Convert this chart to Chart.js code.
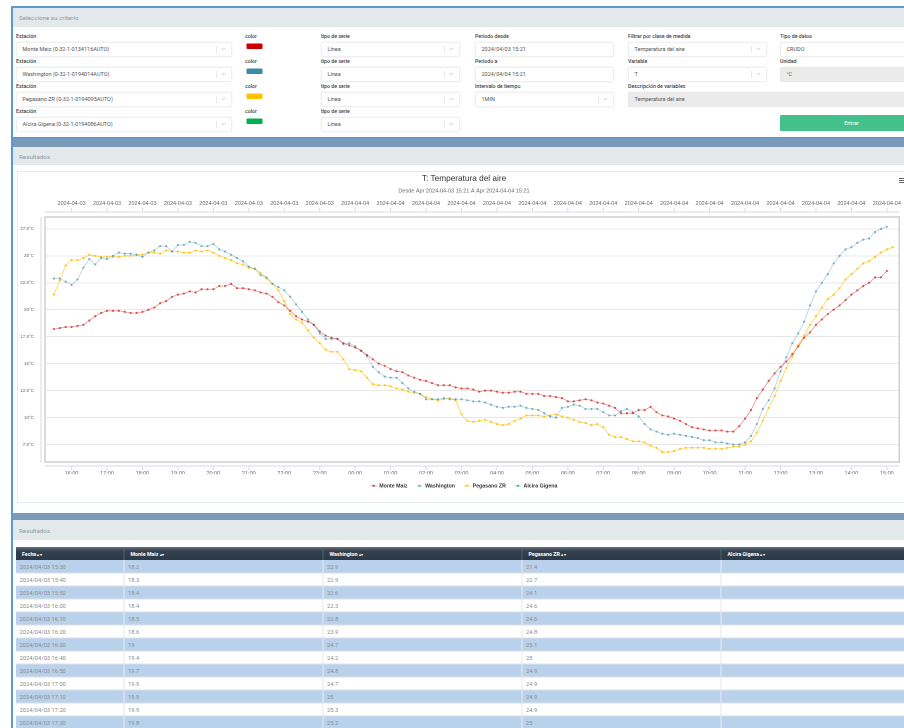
<!DOCTYPE html>
<html><head><meta charset="utf-8">
<script src="https://cdn.jsdelivr.net/npm/chart.js@4.4.1/dist/chart.umd.min.js"></script>
<style>
html,body{margin:0;padding:0;width:904px;height:728px;overflow:hidden;background:#fff;}
#page{position:absolute;left:0;top:0;width:1860px;height:1460px;transform:scale(0.5);transform-origin:0 0;font-family:Roboto,'Liberation Sans',sans-serif;background:#fff;}
.abs{position:absolute;}
.hdr{position:absolute;left:26px;width:1834px;background:#e3e8eb;color:#8d9aa3;font-size:12.5px;padding-left:12px;box-sizing:border-box;display:flex;align-items:center;}
.body{position:absolute;left:26px;width:1834px;background:#fff;}
.lbl{position:absolute;font-size:10.5px;color:#444;font-weight:500;white-space:nowrap;line-height:14px;}
.box{position:absolute;height:30px;box-sizing:border-box;border:1.5px solid #d6d6d6;border-radius:3px;background:#fff;font-size:11px;color:#555;line-height:27px;padding-left:12px;white-space:nowrap;overflow:hidden;}
.box.dis{background:#ebebeb;border-color:#dedede;}
.sep{position:absolute;right:30px;top:7px;width:1.5px;height:14px;background:#d3d3d3;}
.chev{position:absolute;right:13px;top:8px;width:5px;height:5px;border-right:1.5px solid #b0b0b0;border-bottom:1.5px solid #b0b0b0;transform:rotate(45deg);}
.sw{position:absolute;width:32px;height:11px;border-radius:2px;}
.btn{position:absolute;background:#44c08a;color:#fff;font-size:11px;text-align:center;border-radius:3px;}
#tbl{position:absolute;left:32px;top:1094px;border-collapse:collapse;table-layout:fixed;font-size:11.5px;}
#tbl th{height:26px;box-sizing:border-box;text-align:left;padding:0 0 0 12px;color:#fff;font-weight:bold;font-size:10.5px;background:linear-gradient(#66727e 0%,#34414f 30%,#2b3845 100%);border-right:2px solid #56636f;}
#tbl td{height:26px;box-sizing:border-box;padding:0 0 0 7px;color:#8c8c8c;border-right:2px solid #e3e8ee;border-bottom:2px solid #d9e1ea;}
#tbl tr.od td{background:#b9d1ea;border-right-color:#e8eef5;}
#tbl tr.ev td{background:#fff;}
.ar{font-size:7px;letter-spacing:1px;}
#chartbox{position:absolute;left:34px;top:342px;width:1788px;height:664px;box-sizing:border-box;border:2px solid #e4ebf3;}
#c{position:absolute;left:34px;top:342px;}
</style></head>
<body>
<div id="page">
 <div class="abs" style="left:22px;top:12px;width:1838px;height:1448px;background:#7b9ab7"></div>
 <div class="abs" style="left:22px;top:12px;width:4px;height:1448px;background:#5b9bd5"></div>
 <div class="abs" style="left:22px;top:12px;width:1838px;height:4px;background:#5b9bd5"></div>
 <div class="hdr" style="top:16px;height:38px">Seleccione su criterio</div>
 <div class="body" style="top:54px;height:220px"></div>
 <div class="abs" style="left:26px;top:274px;width:1834px;height:3px;background:#5f97d3"></div>
 <div class="hdr" style="top:294px;height:36px">Resultados</div>
 <div class="body" style="top:330px;height:696px"></div>
 <div class="hdr" style="top:1040px;height:40px">Resultados</div>
 <div class="body" style="top:1080px;height:380px"></div>
 <div id="form"></div>
 <div id="chartbox"></div>
 <canvas id="c" width="1788" height="664"></canvas>
 <table id="tbl"></table>
</div>
<script>
// ---------------- data ----------------
const seriesNames = ['Monte Maiz', 'Washington', 'Pegasano ZR', 'Alcira Gigena'];
const stationLabels = ['Monte Maiz (0-32-1-0134116AUTO)', 'Washington (0-32-1-0194014AUTO)', 'Pegasano ZR (0-32-1-0194095AUTO)', 'Alcira Gigena (0-32-1-0194086AUTO)'];
const seriesColors = ['#cc0000', '#3b8ba8', '#ffc000', '#00b050'];
const lineColors = ['rgba(210,40,40,0.5)', 'rgba(70,150,180,0.42)', 'rgba(255,192,0,0.68)', 'rgba(0,176,80,0.5)'];
const pointColors = ['rgba(205,30,30,0.72)', 'rgba(70,150,180,0.7)', 'rgba(255,190,0,0.85)', 'rgba(0,176,80,0.7)'];
const startDate = '2024/04/03';
const startMinute = 930;   // 15:30, first sample
const stepMinutes = 10;

const monteMaiz = [18.2,18.3,18.4,18.4,18.5,18.6,19,19.4,19.7,19.9,
 19.9,19.9,19.8,19.7,19.7,19.8,20,20.2,20.6,20.8,
 21.2,21.4,21.5,21.7,21.6,21.9,21.9,21.9,22.2,22.2,
 22.4,22,22,21.9,21.8,21.6,21.5,21.2,20.7,20.4,
 19.9,19.4,19.1,18.9,18.6,18,17.6,17.4,17.3,16.9,
 16.7,16.5,16.2,15.8,15.4,15,14.8,14.5,14.3,14.2,
 13.9,13.7,13.5,13.4,13.2,13,13,13,12.8,12.7,
 12.7,12.6,12.4,12.5,12.5,12.4,12.3,12.3,12.4,12.4,
 12.2,12.2,12.2,12,12,11.9,11.8,11.5,11.5,11.6,
 11.7,11.6,11.4,11.3,11.1,10.9,10.4,10.4,10.4,10.7,
 10.7,11,10.5,10.2,10.1,9.9,9.7,9.4,9.1,9,
 8.9,8.8,8.8,8.8,8.7,8.7,9.2,9.9,10.7,11.8,
 12.6,13.4,14.1,14.7,15.2,15.9,16.6,17.4,17.9,18.6,
 19.1,19.6,20,20.4,20.9,21.4,21.8,22.2,22.5,23,
 23,23.6];
const washington = [22.9,22.9,22.6,22.3,22.8,23.9,24.7,24.2,24.8,24.7,
 25,25.3,25.2,25.2,25.1,24.9,25.3,25.5,25.9,25.9,
 25.4,26,26,26.3,26.2,25.9,25.9,26.1,25.6,25.4,
 25.1,24.8,24.5,24,23.8,23.2,23,22.4,22.1,21.8,
 21.2,20.5,19.8,19.1,18.6,17.8,17.3,17.3,17.3,16.8,
 16.9,16.6,16.2,15.7,14.7,14.2,13.8,13.7,13.7,13.2,
 12.7,12.4,12.2,11.7,11.7,11.7,11.8,11.7,11.7,11.7,
 11.6,11.5,11.5,11.4,11.2,11,10.9,11,11,11.1,
 10.9,10.8,10.7,10.4,10.1,10,10.9,11,11.2,11.1,
 10.8,10.8,10.8,10.5,10.2,10.2,10.6,10.8,10.5,10.1,
 9.4,8.9,8.7,8.5,8.4,8.5,8.4,8.3,8.2,8.1,
 7.9,7.9,7.7,7.7,7.6,7.5,7.5,7.7,8.3,9.4,
 10.8,11.6,12.7,14.3,15.6,16.9,17.8,18.9,20.4,21.7,
 22.5,23.3,24.3,25,25.6,25.8,26.2,26.5,26.6,27.2,
 27.5,27.7];
const pegasano = [21.4,22.7,24.1,24.6,24.6,24.8,25.1,25,24.9,24.9,
 24.9,24.9,25,25,25.1,25.1,25.3,25.3,25.2,25.5,
 25.4,25.4,25.3,25.3,25.5,25.4,25.5,25.3,25,24.8,
 24.6,24.3,24.2,23.9,23.8,23.4,22.9,22.4,21.8,20.8,
 19.6,19.1,18.8,18.1,17.4,16.9,16.3,16.1,16.1,15.4,
 14.5,14.4,14.3,13.7,13.1,13,13,12.9,12.7,12.6,
 12.4,12.3,12.2,11.9,11.7,11.6,11.7,11.8,11.6,10.3,
 9.7,9.6,9.7,9.8,9.6,9.4,9.3,9.4,9.7,9.9,
 10.2,10.2,10.2,10.1,10.2,10.3,10.1,10,9.8,9.6,
 9.5,9.3,9.4,9.1,8.4,8.2,8.2,8,7.8,7.8,
 7.7,7.4,7.2,6.8,6.8,6.9,7.1,7.2,7.2,7.2,
 7.2,7.1,7.1,7.1,7.2,7.3,7.3,7.5,7.8,8.6,
 9.7,10.9,12,13.4,14.6,15.7,16.7,17.6,18.6,19.4,
 20.2,21,21.4,22,22.8,23.3,23.8,24.3,24.5,24.9,
 25.3,25.6,25.8];
const alciraGigena = [];
const seriesValues = [monteMaiz, washington, pegasano, alciraGigena];

const hourLabels = ['16:00','17:00','18:00','19:00','20:00','21:00','22:00','23:00','00:00','01:00','02:00','03:00',
  '04:00','05:00','06:00','07:00','08:00','09:00','10:00','11:00','12:00','13:00','14:00','15:00'];
const dateLabels = ['2024-04-03','2024-04-03','2024-04-03','2024-04-03','2024-04-03','2024-04-03','2024-04-03','2024-04-03',
  '2024-04-04','2024-04-04','2024-04-04','2024-04-04','2024-04-04','2024-04-04','2024-04-04','2024-04-04',
  '2024-04-04','2024-04-04','2024-04-04','2024-04-04','2024-04-04','2024-04-04','2024-04-04','2024-04-04'];
const firstHourMinute = 960;     // 16:00 on 2024-04-03
const xMin = 915, xMax = 2361;   // 15:15 .. 15:21 next day
const yTickValues = [7.5, 10, 12.5, 15, 17.5, 20, 22.5, 25, 27.5];
const yTickLabels = ['7.5°C','10°C','12.5°C','15°C','17.5°C','20°C','22.5°C','25°C','27.5°C'];
const yMin = 5.88, yMax = 28.6;
const tableRowCount = 13;

// ---------------- form ----------------
const form = document.getElementById('form');
function add(html){ form.insertAdjacentHTML('beforeend', html); }
function label(x, r, t){ add(`<div class="lbl" style="left:${x}px;top:${65+50*r}px">${t}</div>`); }
function select(x, r, w, t, dis){ add(`<div class="box${dis?' dis':''}" style="left:${x}px;top:${84+50*r}px;width:${w}px">${t}<div class="sep"></div><div class="chev"></div></div>`); }
function input(x, r, w, t, dis){ add(`<div class="box${dis?' dis':''}" style="left:${x}px;top:${84+50*r}px;width:${w}px">${t}</div>`); }
for (let r = 0; r < 4; r++) {
  label(32, r, 'Estación'); select(32, r, 432, stationLabels[r]);
  label(490, r, 'color'); add(`<div class="sw" style="left:493px;top:${87+50*r}px;background:${seriesColors[r]}"></div>`);
  label(642, r, 'tipo de serie'); select(642, r, 278, 'Línea');
}
label(950, 0, 'Periodo desde'); input(950, 0, 278, '2024/04/03 15:21');
label(950, 1, 'Periodo a'); input(950, 1, 278, '2024/04/04 15:21');
label(950, 2, 'Intervalo de tiempo'); select(950, 2, 278, '1MIN');
label(1256, 0, 'Filtrar por clase de medida'); select(1256, 0, 278, 'Temperatura del aire');
label(1256, 1, 'Variable'); select(1256, 1, 278, 'T');
label(1256, 2, 'Descripción de variables'); input(1256, 2, 584, 'Temperatura del aire', true);
label(1560, 0, 'Tipo de datos'); select(1560, 0, 280, 'CRUDO');
label(1560, 1, 'Unidad'); input(1560, 1, 280, '°C', true);
add('<div class="btn" style="left:1560px;top:230px;width:286px;height:32px;line-height:32px">Entrar</div>');

// ---------------- table ----------------
const pad = n => String(n).padStart(2, '0');
const timeOf = i => { const m = startMinute + i * stepMinutes; return pad(Math.floor(m / 60) % 24) + ':' + pad(m % 60); };
let th = '<tr>' + ['Fecha', ...seriesNames].map((h, k) => `<th style="width:${k ? 398 : 216}px">${h} <span class="ar">▴▾</span></th>`).join('') + '</tr>';
for (let i = 0; i < tableRowCount; i++) {
  th += `<tr class="${i % 2 ? 'ev' : 'od'}"><td>${startDate} ${timeOf(i)}</td>` +
    seriesValues.map(s => `<td>${s[i] !== undefined ? s[i] : ''}</td>`).join('') + '</tr>';
}
document.getElementById('tbl').innerHTML = th;

// ---------------- chart ----------------
Chart.defaults.font.family = "'Liberation Sans', Arial, sans-serif";
const hourValues = hourLabels.map((_, k) => firstHourMinute + 60 * k);
const toPts = arr => arr.map((v, i) => ({ x: startMinute + i * stepMinutes, y: v }));

function legendIcon(color, line) {
  const c = document.createElement('canvas'); c.width = 13; c.height = 8;
  const g = c.getContext('2d');
  g.strokeStyle = line; g.lineWidth = 1.6;
  g.beginPath(); g.moveTo(0, 4); g.lineTo(13, 4); g.stroke();
  g.fillStyle = color; g.beginPath(); g.arc(6.5, 4, 2.4, 0, Math.PI * 2); g.fill();
  return c;
}
const icons = pointColors.map((c, k) => legendIcon(c, lineColors[k]));

const framePlugin = {
  id: 'frame',
  beforeDatasetsDraw(chart) {
    const { ctx, chartArea: a } = chart;
    ctx.save();
    ctx.strokeStyle = '#cfcfcf'; ctx.lineWidth = 3;
    ctx.strokeRect(a.left, a.top, a.right - a.left, a.bottom - a.top);
    ctx.strokeStyle = '#d5dde9'; ctx.lineWidth = 2;
    ctx.beginPath();
    ctx.moveTo(a.left - 8, a.top); ctx.lineTo(a.left - 8, a.bottom + 2);
    ctx.moveTo(a.left, a.bottom + 8); ctx.lineTo(a.right, a.bottom + 8);
    ctx.moveTo(a.left, a.top - 10); ctx.lineTo(a.right, a.top - 10);
    chart.scales.x.ticks.forEach(t => {
      const px = chart.scales.x.getPixelForValue(t.value);
      ctx.moveTo(px, a.bottom + 8); ctx.lineTo(px, a.bottom + 17);
    });
    chart.scales.x2.ticks.forEach(t => {
      const px = chart.scales.x2.getPixelForValue(t.value);
      ctx.moveTo(px, a.top - 10); ctx.lineTo(px, a.top - 18);
    });
    ctx.stroke();
    // export menu icon
    ctx.strokeStyle = '#666'; ctx.lineWidth = 2;
    ctx.beginPath();
    [15, 19, 23].forEach(y => { ctx.moveTo(1764, y); ctx.lineTo(1778, y); });
    ctx.stroke();
    ctx.restore();
  }
};

const tickFont = { size: 11 };
new Chart(document.getElementById('c'), {
  type: 'line',
  data: {
    datasets: seriesNames.map((n, k) => ({
      label: n, data: toPts(seriesValues[k]),
      borderColor: lineColors[k], backgroundColor: pointColors[k],
      pointBackgroundColor: pointColors[k], pointBorderWidth: 0,
      borderWidth: 1.6, pointRadius: 2.2, tension: 0, fill: false
    }))
  },
  options: {
    responsive: false, animation: false, devicePixelRatio: 1,
    layout: { padding: { left: 10, right: 10, top: 0, bottom: 19 } },
    scales: {
      x: {
        type: 'linear', position: 'bottom', min: xMin, max: xMax,
        afterBuildTicks: s => { s.ticks = hourValues.map(v => ({ value: v })); },
        afterFit: s => { s.height = 24.5; },
        ticks: { autoSkip: false, maxRotation: 0, padding: 16, color: '#666', font: tickFont, callback: (v, i) => hourLabels[i] },
        grid: { display: false, drawTicks: false }, border: { display: false }
      },
      x2: {
        type: 'linear', axis: 'x', position: 'top', min: xMin, max: xMax,
        afterBuildTicks: s => { s.ticks = hourValues.map(v => ({ value: v })); },
        afterFit: s => { s.height = 45.4; },
        ticks: { autoSkip: false, maxRotation: 0, padding: 20, color: '#666', font: tickFont, callback: (v, i) => dateLabels[i] },
        grid: { display: false, drawTicks: false }, border: { display: false }
      },
      y: {
        min: yMin, max: yMax,
        afterBuildTicks: s => { s.ticks = yTickValues.map(v => ({ value: v })); },
        afterFit: s => { s.width = 46; s._computeLabelArea = () => undefined; },
        ticks: { padding: 22, color: '#666', font: { size: 9 }, callback: (v, i) => yTickLabels[i] },
        grid: { color: '#e8e8e8', lineWidth: 2, drawTicks: false }, border: { display: false }
      }
    },
    plugins: {
      title: { display: true, text: 'T: Temperatura del aire', color: '#333', font: { size: 16.5, weight: 'normal' }, padding: { top: 6, bottom: 4 } },
      subtitle: { display: true, text: 'Desde Apr 2024-04-03 15:21 A Apr 2024-04-04 15:21', color: '#666', font: { size: 11 }, padding: { top: 3.6, bottom: 0 } },
      legend: {
        position: 'bottom',
        labels: {
          usePointStyle: true, pointStyleWidth: 12, padding: 18, color: '#333',
          font: { size: 10.5, weight: 'bold' },
          generateLabels: chart => {
            const items = Chart.defaults.plugins.legend.labels.generateLabels(chart);
            items.forEach((it, k) => { it.pointStyle = icons[k]; });
            return items;
          }
        }
      },
      tooltip: { enabled: false }
    }
  },
  plugins: [framePlugin]
});
</script>
</body></html>
